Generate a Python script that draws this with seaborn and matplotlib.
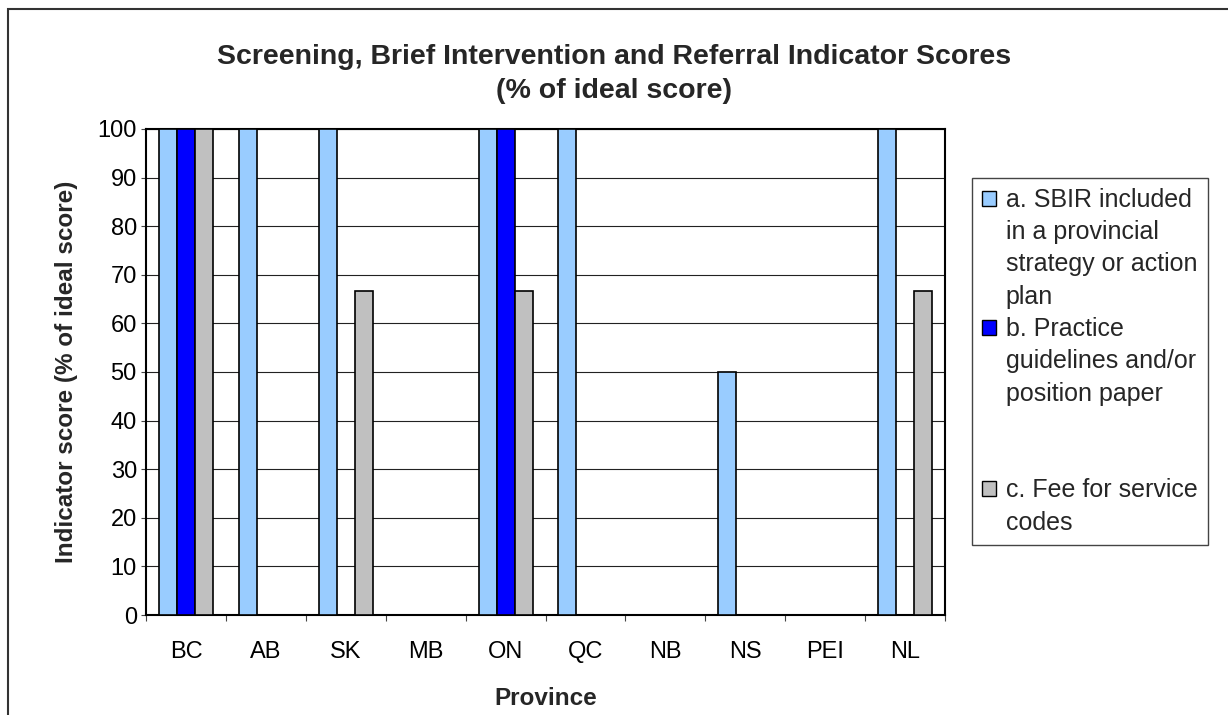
import matplotlib
matplotlib.use("Agg")
import matplotlib.pyplot as plt
from matplotlib.patches import Rectangle, Patch
import seaborn as sns
import pandas as pd

provinces = ["BC", "AB", "SK", "MB", "ON", "QC", "NB", "NS", "PEI", "NL"]
series_names = [
    "a. SBIR included in a provincial strategy or action plan",
    "b. Practice guidelines and/or position paper",
    "c. Fee for service codes",
]
sbir_strategy = [100, 100, 100, 0, 100, 100, 0, 50, 0, 100]
practice_guidelines = [100, 0, 0, 0, 100, 0, 0, 0, 0, 0]
fee_for_service = [100, 0, 66.7, 0, 66.7, 0, 0, 0, 0, 66.7]
legend_lines = [
    ["a. SBIR included", "in a provincial", "strategy or action", "plan"],
    ["b. Practice", "guidelines and/or", "position paper"],
    ["c. Fee for service", "codes"],
]
yticks = [0, 10, 20, 30, 40, 50, 60, 70, 80, 90, 100]
colors = ["#99CCFF", "#0000FF", "#C0C0C0"]

rows = []
for name, vals in zip(series_names, [sbir_strategy, practice_guidelines, fee_for_service]):
    for p, v in zip(provinces, vals):
        rows.append({"Province": p, "Indicator": name, "Score": v})
df = pd.DataFrame(rows)

sns.set_theme(style="white")
plt.rcParams["font.family"] = ["Liberation Sans", "DejaVu Sans"]

W, H = 1228, 715
fig = plt.figure(figsize=(W / 100, H / 100), dpi=100)
L, R, T, B = 146, 945, 129, 615
ax = fig.add_axes([L / W, 1 - B / H, (R - L) / W, (B - T) / H])

sns.barplot(data=df, x="Province", y="Score", hue="Indicator", order=provinces,
            hue_order=series_names, palette=colors, saturation=1, edgecolor="black",
            linewidth=1.2, width=0.675, gap=0, legend=False, ax=ax, zorder=3)

ax.set_ylim(0, 100)
ax.set_xlim(-0.5, len(provinces) - 0.5)
ax.set_yticks(yticks)
ax.set_yticklabels([str(v) for v in yticks])
ax.yaxis.grid(True, color="#222222", linewidth=0.8, zorder=0)
ax.set_axisbelow(True)
for s in ax.spines.values():
    s.set_visible(True)
    s.set_color("black")
    s.set_linewidth(1.5)

ax.tick_params(axis="y", which="major", left=True, direction="out", length=3.6,
               width=0.8, color="#444444", labelsize=17, pad=3, labelcolor="black")
ax.tick_params(axis="x", which="major", bottom=True, length=0, labelsize=17, pad=19,
               labelcolor="black")
ax.set_xticks([i - 0.5 for i in range(len(provinces) + 1)], minor=True)
ax.tick_params(axis="x", which="minor", bottom=True, direction="out", length=4.5,
               width=0.8, color="#444444")

ax.set_xlabel("Province", fontsize=17.5, fontweight="bold")
ax.set_ylabel("Indicator score (% of ideal score)", fontsize=17.5, fontweight="bold")
ax.xaxis.set_label_coords(0.5, -0.148)
ax.yaxis.set_label_coords(-0.0845, 0.5)

fig.text(0.5, 1 - 44 / H,
         "Screening, Brief Intervention and Referral Indicator Scores\n(% of ideal score)",
         ha="center", va="top", fontsize=20.5, fontweight="bold", linespacing=1.42)

# legend (line by line, Excel style)
handles, labels = [], []
blank = Patch(facecolor="none", edgecolor="none")
for k, (lines, col) in enumerate(zip(legend_lines, colors)):
    for j, ln in enumerate(lines):
        if j == 0:
            handles.append(Patch(facecolor=col, edgecolor="black", linewidth=1.0))
        else:
            handles.append(blank)
        labels.append(ln)
    if k == 1:
        handles += [blank, blank]
        labels += [" ", " "]
leg = fig.legend(handles, labels, loc="upper left",
                 bbox_to_anchor=(972 / W, 1 - 178 / H), bbox_transform=fig.transFigure,
                 borderaxespad=0, frameon=True, fancybox=False, shadow=False,
                 edgecolor="#444444", framealpha=1, fontsize=18, labelspacing=0.33,
                 handlelength=0.55, handleheight=0.55, handletextpad=0.4,
                 borderpad=0.4)
leg.get_frame().set_linewidth(1.0)

fig.patches.append(Rectangle((8 / W, -0.2), 1.5, 1 - 9 / H + 0.2, transform=fig.transFigure,
                             fill=False, edgecolor="#333333", linewidth=1.5, zorder=10))

fig.savefig("out.png", dpi=100)
